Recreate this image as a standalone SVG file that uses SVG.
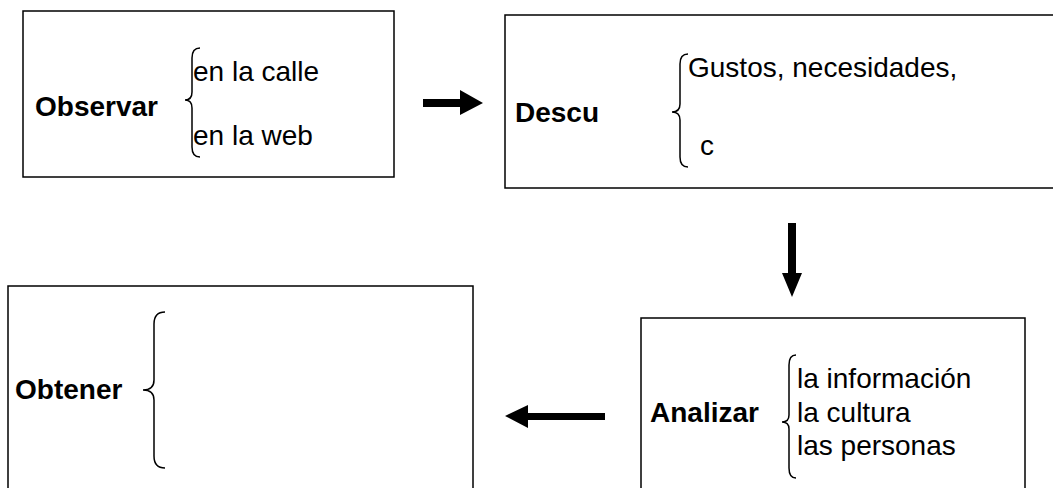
<svg xmlns="http://www.w3.org/2000/svg" width="1053" height="488" viewBox="0 0 1053 488">
<style>
.box{fill:#fff;stroke:#000;stroke-width:1.5}
.br{fill:none;stroke:#000;stroke-width:1.5}
.t{font-family:"Liberation Sans",Arial,sans-serif;font-size:28px;fill:#000}
.b{font-weight:bold}
.arr{fill:#000;stroke:none}
</style>
<rect width="1053" height="488" fill="#fff"/>
<g id="observar">
<rect class="box" x="23" y="11" width="371" height="166"/>
<text class="t b" x="35" y="116">Observar</text>
<path class="br" d="M200,48 Q192,48 192,58 L192,92 Q192,100 185,100 Q192,100 192,108 L192,147 Q192,157 200,157"/>
<text class="t" x="193" y="81">en la calle</text>
<text class="t" x="193" y="145">en la web</text>
</g>
<g id="descu">
<rect class="box" x="505" y="15" width="560" height="173"/>
<text class="t b" x="515" y="122">Descu</text>
<path class="br" d="M688,54 Q680,54 680,64 L680,104 Q680,112 672,112 Q680,112 680,120 L680,157 Q680,167 688,167"/>
<text class="t" x="688" y="77">Gustos, necesidades,</text>
<text class="t" x="700" y="155">c</text>
</g>
<g id="analizar">
<rect class="box" x="641" y="318" width="384" height="180"/>
<text class="t b" x="650" y="422">Analizar</text>
<path class="br" d="M796,355 Q789,355 789,365 L789,415 Q789,422 782,422 Q789,422 789,429 L789,468 Q789,478 796,478"/>
<text class="t" x="797" y="388">la información</text>
<text class="t" x="797" y="422">la cultura</text>
<text class="t" x="797" y="455">las personas</text>
</g>
<g id="obtener">
<rect class="box" x="8" y="286" width="465" height="212"/>
<text class="t b" x="15" y="399">Obtener</text>
<path class="br" d="M165,312 Q154,312 154,324 L154,380 Q154,390 143,390 Q154,390 154,400 L154,456 Q154,468 165,468"/>
</g>
<g id="connectors">
<path class="arr" d="M423,99 L460,99 L460,90 L483,103 L460,115 L460,107 L423,107 Z"/>
<path class="arr" d="M788,223 L796,223 L796,273 L802,273 L792,297 L782,273 L788,273 Z"/>
<path class="arr" d="M605,413 L528,413 L528,405 L505,416 L528,428 L528,420 L605,420 Z"/>
</g>
</svg>
